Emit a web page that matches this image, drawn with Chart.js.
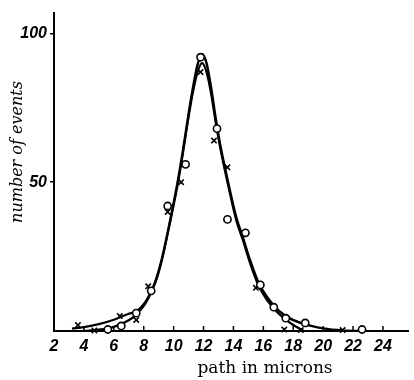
<!DOCTYPE html>
<html>
<head>
<meta charset="utf-8">
<script src="https://cdn.jsdelivr.net/npm/chart.js@4.4.0/dist/chart.umd.min.js"></script>
<style>
  html, body { margin: 0; padding: 0; background: #fff; }
</style>
</head>
<body>
<canvas id="path-chart" width="414" height="380"></canvas>
<script>
/************************************************************/
/*          PATH LENGTH DISTRIBUTION (events vs path)       */
/************************************************************/

/* Axis ticks */
const X_TICKS = [2, 4, 6, 8, 10, 12, 14, 16, 18, 20, 22, 24];
const Y_TICKS = [50, 100];

/* Measured points, circles */
const CIRCLE_X = [5.6, 6.5, 7.5, 8.5, 9.6, 10.8, 11.8, 12.9, 13.6, 14.8, 15.8, 16.7, 17.5, 18.8, 22.6];
const CIRCLE_Y = [0.5, 1.7, 6, 13.5, 42, 56, 92, 68, 37.5, 33, 15.5, 8, 4.3, 2.7, 0.5];

/* Measured points, crosses */
const CROSS_X = [3.6, 4.7, 6.4, 7.5, 8.3, 9.6, 10.5, 11.8, 12.7, 13.6, 15.5, 17.4, 18.5, 21.3];
const CROSS_Y = [2, 0.2, 5, 3.7, 15, 40, 50, 87, 64, 55, 14.5, 0.5, 0.3, 0.3];

/* Fitted curve through the circles */
const FIT_O_X = [4.0, 5.0, 6.0, 7.0, 7.5, 8.2, 8.8, 9.2, 9.8, 10.3, 10.6, 11.0, 11.3, 11.6, 11.9,
                 12.2, 12.5, 12.8, 13.1, 13.6, 14.2, 14.6, 15.1, 15.7, 16.7, 17.5, 18.7, 20.0, 21.3, 22.5];
const FIT_O_Y = [0, 0.4, 1.4, 3.6, 5.5, 10, 17, 24, 38, 51, 60, 73, 82, 89.5, 93,
                 90, 82, 72, 63, 51, 38, 32, 24, 16, 8.5, 5, 2.4, 0.9, 0.2, 0];

/* Fitted curve through the crosses */
const FIT_X_X = [3.2, 4.0, 5.0, 6.0, 6.5, 7.0, 7.5, 8.2, 8.8, 9.2, 9.8, 10.3, 10.6, 11.0, 11.3, 11.6, 11.9,
                 12.2, 12.5, 12.8, 13.1, 13.6, 14.2, 14.6, 15.1, 15.7, 16.3, 16.7, 17.5, 18.0, 18.7];
const FIT_X_Y = [0.8, 1.3, 2.3, 3.8, 4.8, 5.8, 6.6, 10.5, 16.5, 23.5, 37.5, 50, 59, 72, 80.5, 87, 90,
                 87, 80, 70.5, 62, 50, 37, 31, 23, 15, 10, 7.5, 3.8, 2.0, 0];

/* Zip two arrays into {x, y} points */
function toPoints(xs, ys) {
    return xs.map((x, i) => ({ x: x, y: ys[i] }));
}

const TICK_FONT = { family: '"Liberation Sans Narrow", "Liberation Sans", sans-serif', size: 16, style: 'italic', weight: 'bold' };

/* Inward x ticks and the two axis titles */
const axisExtras = {
    id: 'axisExtras',
    afterDraw(chart) {
        const ctx = chart.ctx;
        const xs = chart.scales.x;
        const ys = chart.scales.y;
        ctx.save();
        ctx.strokeStyle = '#000';
        ctx.lineWidth = 1.5;
        X_TICKS.forEach((v) => {
            if (v === X_TICKS[0]) return;
            const px = xs.getPixelForValue(v);
            ctx.beginPath();
            ctx.moveTo(px, ys.bottom);
            ctx.lineTo(px, ys.bottom - 5);
            ctx.stroke();
        });

        ctx.fillStyle = '#000';
        ctx.textAlign = 'center';
        ctx.textBaseline = 'middle';

        // y title, rotated
        ctx.save();
        ctx.translate(18, 152);
        ctx.rotate(-Math.PI / 2);
        ctx.font = 'italic 16px "DejaVu Serif"';
        ctx.fillText('number of events', 0, 0);
        ctx.restore();

        // x title
        ctx.font = '17px "DejaVu Serif"';
        ctx.fillText('path in microns', 265, 369);
        ctx.restore();
    }
};

/* Init the chart */
function initPathChart() {
    var ctx = document.getElementById('path-chart');
    return new Chart(ctx, {
        type: 'scatter',
        data: {
            datasets: [{
                label: 'fit o',
                data: toPoints(FIT_O_X, FIT_O_Y),
                showLine: true,
                borderColor: '#000',
                borderWidth: 2.4,
                pointRadius: 0,
                cubicInterpolationMode: 'monotone',
                order: 2
            }, {
                label: 'fit x',
                data: toPoints(FIT_X_X, FIT_X_Y),
                showLine: true,
                borderColor: '#000',
                borderWidth: 2.2,
                pointRadius: 0,
                cubicInterpolationMode: 'monotone',
                order: 2
            }, {
                label: 'circles',
                data: toPoints(CIRCLE_X, CIRCLE_Y),
                pointStyle: 'circle',
                pointRadius: 3.6,
                pointBorderWidth: 1.6,
                pointBackgroundColor: '#fff',
                pointBorderColor: '#000',
                clip: false,
                order: 0
            }, {
                label: 'crosses',
                data: toPoints(CROSS_X, CROSS_Y),
                pointStyle: 'crossRot',
                pointRadius: 3.8,
                pointBorderWidth: 1.6,
                pointBorderColor: '#000',
                clip: false,
                order: 0
            }]
        },
        options: {
            responsive: false,
            animation: false,
            layout: { padding: { top: 12, right: 0, left: 0, bottom: 0 } },
            plugins: {
                legend: { display: false },
                tooltip: { enabled: false }
            },
            scales: {
                x: {
                    type: 'linear',
                    min: 2,
                    max: 25.7,
                    afterBuildTicks: (scale) => { scale.ticks = X_TICKS.map(v => ({ value: v })); },
                    afterFit: (scale) => { scale.height = 49; },
                    grid: { display: true, drawOnChartArea: false, drawTicks: false },
                    border: { color: '#000', width: 2 },
                    ticks: { color: '#000', font: TICK_FONT, padding: 6, maxRotation: 0, autoSkip: false }
                },
                y: {
                    min: 0,
                    max: 107,
                    afterBuildTicks: (scale) => { scale.ticks = Y_TICKS.map(v => ({ value: v })); },
                    afterFit: (scale) => { scale.width = 54; },
                    grid: { drawOnChartArea: false, tickLength: 4, color: '#000', lineWidth: 1.5 },
                    border: { color: '#000', width: 2 },
                    ticks: { color: '#000', font: TICK_FONT, padding: 3 }
                }
            }
        },
        plugins: [axisExtras]
    });
}

var pathChart = initPathChart();
</script>
</body>
</html>
